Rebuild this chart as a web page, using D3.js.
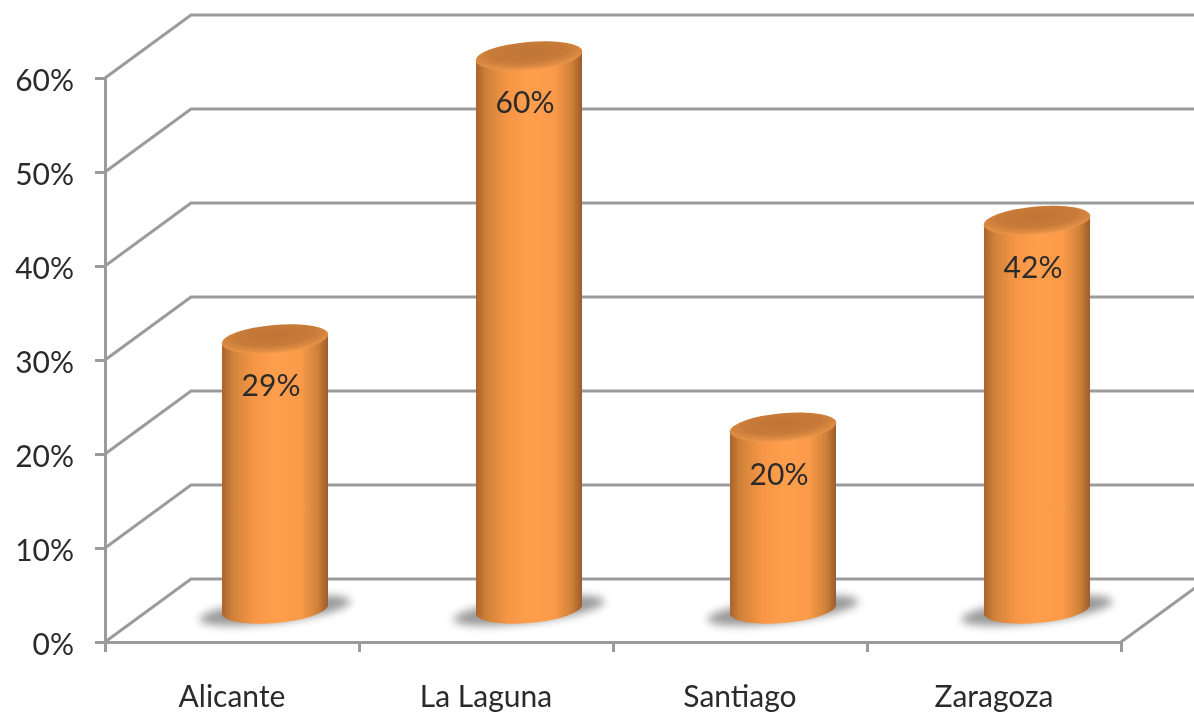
<!DOCTYPE html>
<html>
<head>
<meta charset="utf-8">
<script src="https://cdn.jsdelivr.net/npm/d3@7"></script>
<style>
  html, body { margin: 0; padding: 0; background: #fff; }
  svg { display: block; }
</style>
</head>
<body>
<div id="chart"></div>
<script>
const categories = ["Alicante", "La Laguna", "Santiago", "Zaragoza"];
const values = [28.9, 59, 19.5, 41.5];
const valueLabels = ["29%", "60%", "20%", "42%"];
const yTicks = [0, 10, 20, 30, 40, 50, 60];

const W = 1194, H = 713;
const depthX = 86, depthY = 63;      // floor depth of the fake 3D box
const gridColor = "#9b9b9b";
const fontName = 'Lato, "Open Sans", sans-serif';
const textColor = "#2b2b2b";

const svg = d3.select("#chart").append("svg").attr("width", W).attr("height", H);
const defs = svg.append("defs");

// front plane scales
const x = d3.scaleBand().domain(categories).range([105, 1121]);
const y = d3.scaleLinear().domain([0, 60]).range([642, 78]);

// cylinder body, dark edges and light middle
const body = defs.append("linearGradient").attr("id", "body");
[[0, "#a9642c"], [0.1, "#d08239"], [0.3, "#f69646"], [0.5, "#ff9e4c"], [0.74, "#fb9b4a"], [0.9, "#d08239"], [1, "#9d5c2b"]]
  .forEach(s => body.append("stop").attr("offset", s[0]).attr("stop-color", s[1]));

const cap = defs.append("radialGradient").attr("id", "cap").attr("cx", 0.5).attr("cy", 0.36).attr("r", 0.62);
[[0, "#bd7435"], [0.6, "#c87b39"], [0.85, "#dc8a42"], [1, "#ec974b"]]
  .forEach(s => cap.append("stop").attr("offset", s[0]).attr("stop-color", s[1]));

defs.append("filter").attr("id", "blur").attr("x", "-20%").attr("y", "-50%").attr("width", "140%").attr("height", "200%")
  .append("feGaussianBlur").attr("stdDeviation", 4.5);
defs.append("filter").attr("id", "txt")
  .append("feGaussianBlur").attr("stdDeviation", 0.5);

// back wall gridlines with their slanted part
svg.append("g").selectAll("path").data(yTicks).join("path")
  .attr("d", d => {
    const p = d3.path();
    p.moveTo(105, y(d));
    p.lineTo(105 + depthX, y(d) - depthY);
    p.lineTo(W, y(d) - depthY);
    return p.toString();
  })
  .attr("fill", "none").attr("stroke", gridColor).attr("stroke-width", 3);

// right edge of the floor
svg.append("line")
  .attr("x1", x.range()[1]).attr("y1", y(0))
  .attr("x2", x.range()[1] + depthX).attr("y2", y(0) - depthY)
  .attr("stroke", gridColor).attr("stroke-width", 3);

// value axis
const yAxis = svg.append("g").attr("transform", "translate(105,0)")
  .call(d3.axisLeft(y).tickValues(yTicks).tickSize(10).tickPadding(21).tickFormat(d => d + "%"));

// category axis, ticks on band edges
const edges = d3.scaleLinear().domain([0, 4]).range(x.range());
const xTickAxis = svg.append("g").attr("transform", "translate(0," + y(0) + ")")
  .call(d3.axisBottom(edges).tickValues([0, 1, 2, 3, 4]).tickSize(10).tickFormat(""));
const xAxis = svg.append("g").attr("transform", "translate(0," + y(0) + ")")
  .call(d3.axisBottom(x).tickSize(0).tickPadding(44));
xAxis.select(".domain").remove();

[yAxis, xTickAxis].forEach(a => {
  a.select(".domain").attr("stroke", gridColor).attr("stroke-width", 3);
  a.selectAll(".tick line").attr("stroke", gridColor).attr("stroke-width", 3);
});
svg.selectAll(".tick text")
  .attr("font-size", 30).attr("font-family", fontName).attr("fill", textColor).attr("filter", "url(#txt)");
yAxis.selectAll("text").attr("dy", "0.42em");

// cylinders
const barW = 106, ry = 14, tilt = 4.5;
const shiftX = 43, shiftY = 31.5;   // columns sit halfway back on the floor

const bars = svg.append("g").selectAll("g").data(categories).join("g")
  .attr("transform", d => "translate(" + (x(d) + x.bandwidth() / 2 + shiftX) + ",0)");

// floor shadow
bars.append("ellipse")
  .attr("cx", 0).attr("cy", y(0) - shiftY)
  .attr("rx", 76).attr("ry", 12)
  .attr("transform", "rotate(-7 0 " + (y(0) - shiftY) + ")")
  .attr("fill", "#999").attr("filter", "url(#blur)");

// body
bars.append("path")
  .attr("d", (d, i) => {
    const top = y(values[i]) - shiftY, base = y(0) - shiftY;
    return "M" + (-barW / 2) + "," + (top + tilt) +
      "L" + (-barW / 2) + "," + (base + tilt) +
      "A" + (barW / 2 + 0.5) + "," + ry + " -5 0 0 " + (barW / 2) + "," + (base - tilt) +
      "L" + (barW / 2) + "," + (top - tilt) +
      "A" + (barW / 2 + 0.5) + "," + ry + " -5 0 1 " + (-barW / 2) + "," + (top + tilt) + "Z";
  })
  .attr("fill", "url(#body)");

// cap
bars.append("ellipse")
  .attr("cx", 0).attr("cy", (d, i) => y(values[i]) - shiftY)
  .attr("rx", barW / 2 + 0.5).attr("ry", ry)
  .attr("transform", (d, i) => "rotate(-5 0 " + (y(values[i]) - shiftY) + ")")
  .attr("fill", "url(#cap)");

// value labels
bars.append("text")
  .attr("x", -4).attr("y", (d, i) => y(values[i]) - shiftY + 46)
  .attr("dy", "0.38em")
  .attr("text-anchor", "middle").attr("font-size", 30)
  .attr("font-family", fontName).attr("fill", textColor)
  .attr("filter", "url(#txt)")
  .text((d, i) => valueLabels[i]);
</script>
</body>
</html>
